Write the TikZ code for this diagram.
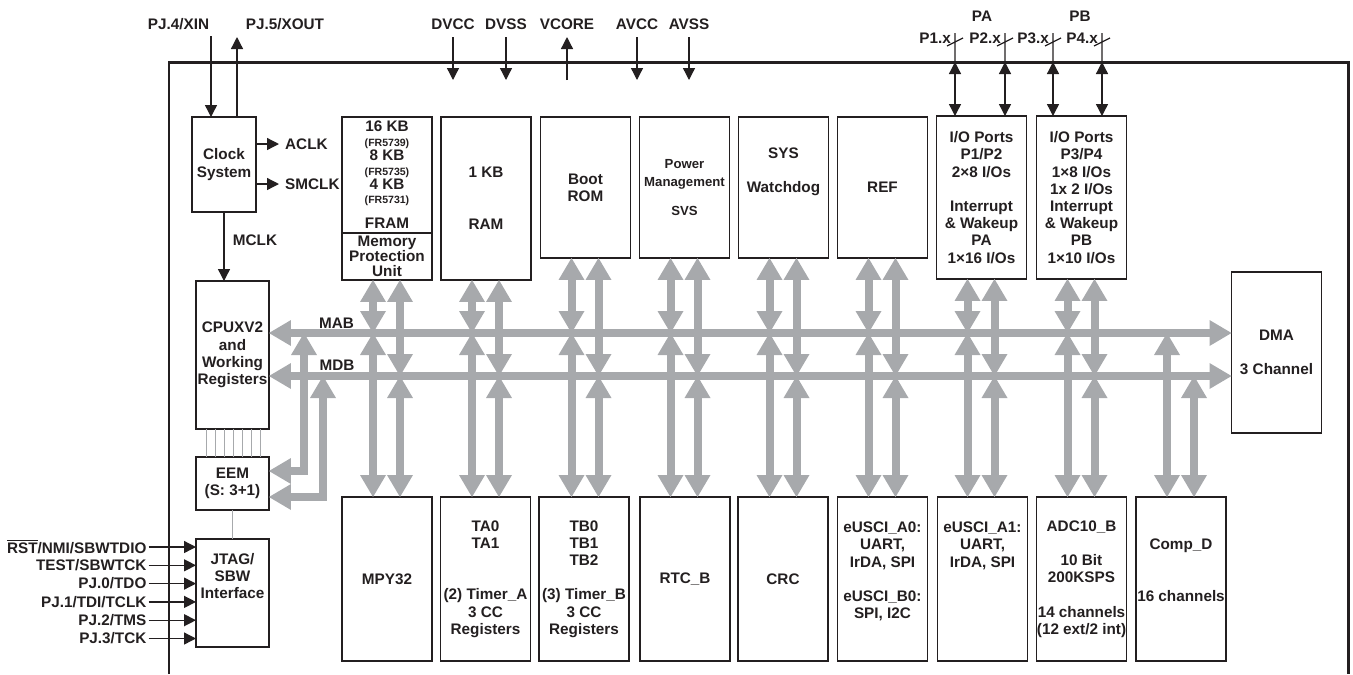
\documentclass[tikz,border=0pt]{standalone}
\usepackage{fontspec}
\setmainfont{Liberation Sans}
\usetikzlibrary{arrows.meta,calc,positioning}
\definecolor{231f20}{HTML}{231F20}
\definecolor{a7a9ac}{HTML}{A7A9AC}
\begin{document}
\begin{tikzpicture}[x=0.02cm,y=-0.02cm,231f20,>={Triangle[width=0.24cm,length=0.24cm]},
    font=\fontsize{8.7}{9.8}\selectfont\bfseries,
    blk/.style={draw=231f20,line width=1.1pt,minimum width=1.8cm,align=center,inner sep=0pt,outer sep=0pt},
    pin/.style={231f20,line width=0.75pt},
    pinlbl/.style={inner sep=1pt,anchor=east},
    bus/.style={a7a9ac,line width=0.16cm,>={Triangle[width=0.52cm,length=0.44cm,line width=0pt]}},
    wire/.style={a7a9ac,line width=0.8pt}]
    \newcommand{\frnum}[1]{{\fontsize{6}{6}\selectfont#1}}
    \newcommand{\HTop}{2.82cm}
    \newcommand{\HTall}{3.26cm}
    \newcommand{\HBot}{3.28cm}
    \useasboundingbox(0,0)rectangle(1353,674);
    \draw[231f20,line width=1.7pt](169,674)|-(1348,62)--(1348,674);
    \coordinate(mab)at(0,333);
    \coordinate(mdb)at(0,376);
    \coordinate(ptop)at(0,37);
    \coordinate(pbot)at(0,80);
    \coordinate(xin)at(211,36);
    \coordinate(xout)at(237,37);
    \coordinate(e1)at(304,471);
    \coordinate(e2)at(323,497);
    \coordinate(p1x)at(955,62);
    \coordinate(p2x)at(1005,62);
    \coordinate(p3x)at(1053,62);
    \coordinate(p4x)at(1102,62);
    \node[blk,minimum width=1.28cm,minimum height=1.9cm](clk)at(224,164.5){Clock\\System};
    \node[blk,minimum height=2.32cm,font=\fontsize{8.7}{8.2}\selectfont\bfseries](fram)at(387,175){16 KB\\\frnum{(FR5739)}\\8 KB\\\frnum{(FR5735)}\\4 KB\\\frnum{(FR5731)}\\[6pt]FRAM};
    \node[blk,minimum height=0.94cm,below=0pt of fram,font=\fontsize{8.7}{8.5}\selectfont\bfseries](mpu){Memory\\Protection\\Unit};
    \node[blk,minimum height=\HTall](ram)at(486,198.5){1 KB\\[19.6pt]RAM};
    \node[blk,minimum height=\HTop](boot)at(585.5,187.5){Boot\\ROM};
    \node[blk,minimum height=\HTop,font=\fontsize{7.5}{10.2}\selectfont\bfseries](pmm)at(684.5,187.5){Power\\Management\\[6.8pt]SVS};
    \node[blk,minimum height=\HTop](sys)at(783.5,187.5){SYS\\[9.8pt]Watchdog\\[9.8pt]\mbox{}};
    \node[blk,minimum height=\HTop](ref)at(882.5,187.5){REF};
    \node[blk,minimum height=\HTall](pa)at(981.5,197.5){I/O Ports\\P1/P2\\2×8 I/Os\\[9.8pt]Interrupt\\\& Wakeup\\PA\\1×16 I/Os};
    \node[blk,minimum height=\HTall](pb)at(1081.5,197.5){I/O Ports\\P3/P4\\1×8 I/Os\\1x 2 I/Os\\Interrupt\\\& Wakeup\\PB\\1×10 I/Os};
    \node[blk,minimum width=1.46cm,minimum height=2.96cm](cpu)at(232.5,355){CPUXV2\\and\\Working\\Registers};
    \node[blk,minimum width=1.46cm,minimum height=1.06cm,below=0.56cm of cpu](eem){EEM\\(S: 3+1)};
    \node[blk,minimum width=1.46cm,minimum height=2.16cm,below=0.58cm of eem](jtag){JTAG/\\SBW\\Interface\\[9.8pt]\mbox{}};
    \node[blk,minimum height=3.22cm](dma)at(1276.5,352.5){DMA\\[9.8pt]3 Channel};
    \node[blk,minimum height=\HBot](mpy)at(387,579){MPY32};
    \node[blk,minimum height=\HBot](ta)at(485.5,579){TA0\\TA1\\[19.6pt](2) Timer\_A\\3 CC\\Registers};
    \node[blk,minimum height=\HBot](tb)at(584,579){TB0\\TB1\\TB2\\[9.8pt](3) Timer\_B\\3 CC\\Registers};
    \node[blk,minimum height=\HBot](rtc)at(685,579){RTC\_B};
    \node[blk,minimum height=\HBot](crc)at(783,579){CRC};
    \node[blk,minimum height=\HBot](usci0)at(882.5,579){eUSCI\_A0:\\UART,\\IrDA, SPI\\[9.8pt]eUSCI\_B0:\\SPI, I2C\\\mbox{}};
    \node[blk,minimum height=\HBot](usci1)at(982.5,579){eUSCI\_A1:\\UART,\\IrDA, SPI\\[29.4pt]\mbox{}};
    \node[blk,minimum height=\HBot](adc)at(1081.5,579){ADC10\_B\\[9.8pt]10 Bit\\200KSPS\\[9.8pt]14 channels\\(12 ext/2 int)};
    \node[blk,minimum height=\HBot](comp)at(1181,579){Comp\_D\\[19.6pt]16 channels\\\mbox{}};
    \node(xinl)at(178.5,24){PJ.4/XIN};
    \node(xoutl)at(285,24){PJ.5/XOUT};
    \node(dvcc)at(453,24){DVCC};
    \node(dvss)at(506,24){DVSS};
    \node(vcore)at(567,24){VCORE};
    \node(avcc)at(637,24){AVCC};
    \node(avss)at(689,24){AVSS};
    \node(palbl)at(982,16){PA};
    \node(pblbl)at(1080,16){PB};
    \node[pinlbl](p1)at(953,38){P1.x};
    \node[pinlbl](p2)at(1003,38){P2.x};
    \node[pinlbl](p3)at(1051,38){P3.x};
    \node[pinlbl](p4)at(1100,38){P4.x};
    \node[anchor=west](aclk)at(279,144){ACLK};
    \node[anchor=west](smclk)at(279,184){SMCLK};
    \node(mclk)at(255,240){MCLK};
    \node(mabl)at(336.5,323){MAB};
    \node(mdbl)at(337,365){MDB};
    \node[pinlbl](rst)at(148.5,547){$\overline{\hbox{RST}}$/NMI/SBWTDIO};
    \node[pinlbl](test)at(148.5,565.3){TEST/SBWTCK};
    \node[pinlbl](pj0)at(148.5,583.6){PJ.0/TDO};
    \node[pinlbl](pj1)at(148.5,601.9){PJ.1/TDI/TCLK};
    \node[pinlbl](pj2)at(148.5,620.2){PJ.2/TMS};
    \node[pinlbl](pj3)at(148.5,638.5){PJ.3/TCK};
    \draw[pin,->](xin)--(xin|-clk.north);
    \draw[pin,->](xout|-clk.north)--(xout);
    \draw[pin,->](clk.east|-aclk)--(aclk.west);
    \draw[pin,->](clk.east|-smclk)--(smclk.west);
    \draw[pin,->](clk.south)--(clk.south|-cpu.north);
    \draw[pin,->](dvcc|-ptop)--(dvcc|-pbot);
    \draw[pin,->](dvss|-ptop)--(dvss|-pbot);
    \draw[pin,->](vcore|-pbot)--(vcore|-ptop);
    \draw[pin,->](avcc|-ptop)--(avcc|-pbot);
    \draw[pin,->](avss|-ptop)--(avss|-pbot);
    \draw[pin,<->](p1x)--(p1x|-pa.north);
    \draw[pin,<->](p2x)--(p2x|-pa.north);
    \draw[pin,<->](p3x)--(p3x|-pb.north);
    \draw[pin,<->](p4x)--(p4x|-pb.north);
    \draw[pin](p1x)--++(0,-29)++(-8,13)--++(16,-8);
    \draw[pin](p2x)--++(0,-29)++(-8,13)--++(16,-8);
    \draw[pin](p3x)--++(0,-29)++(-8,13)--++(16,-8);
    \draw[pin](p4x)--++(0,-29)++(-8,13)--++(16,-8);
    \draw[pin,->](rst.east)--(rst.east-|jtag.west);
    \draw[pin,->](test.east)--(test.east-|jtag.west);
    \draw[pin,->](pj0.east)--(pj0.east-|jtag.west);
    \draw[pin,->](pj1.east)--(pj1.east-|jtag.west);
    \draw[pin,->](pj2.east)--(pj2.east-|jtag.west);
    \draw[pin,->](pj3.east)--(pj3.east-|jtag.west);
    \draw[wire]($(cpu.south)+(-26,0)$)--($(eem.north)+(-26,0)$);
    \draw[wire]($(cpu.south)+(-17,0)$)--($(eem.north)+(-17,0)$);
    \draw[wire]($(cpu.south)+(-8,0)$)--($(eem.north)+(-8,0)$);
    \draw[wire]($(cpu.south)+(1,0)$)--($(eem.north)+(1,0)$);
    \draw[wire]($(cpu.south)+(10,0)$)--($(eem.north)+(10,0)$);
    \draw[wire]($(cpu.south)+(19,0)$)--($(eem.north)+(19,0)$);
    \draw[wire]($(cpu.south)+(28,0)$)--($(eem.north)+(28,0)$);
    \draw[wire](eem.south)--(jtag.north);
    \draw[bus,<->](cpu.east|-mab)--(dma.west|-mab);
    \draw[bus,<->](cpu.east|-mdb)--(dma.west|-mdb);
    \draw[bus,<->](eem.east|-e1)-|(e1|-mab);
    \draw[bus,<->](eem.east|-e2)-|(e2|-mdb);
    \draw[bus,<->]($(mpu.south)+(-14,0)$)--({$(mpu.south)+(-14,0)$}|-mab);
    \draw[bus,<->]({$(mpu.south)+(-14,0)$}|-mab)--({$(mpu.south)+(-14,0)$}|-mpy.north);
    \draw[bus,<->]($(mpu.south)+(13,0)$)--({$(mpu.south)+(13,0)$}|-mdb);
    \draw[bus,<->]({$(mpu.south)+(13,0)$}|-mdb)--({$(mpu.south)+(13,0)$}|-mpy.north);
    \draw[bus,<->]($(ram.south)+(-14,0)$)--({$(ram.south)+(-14,0)$}|-mab);
    \draw[bus,<->]({$(ram.south)+(-14,0)$}|-mab)--({$(ram.south)+(-14,0)$}|-ta.north);
    \draw[bus,<->]($(ram.south)+(13,0)$)--({$(ram.south)+(13,0)$}|-mdb);
    \draw[bus,<->]({$(ram.south)+(13,0)$}|-mdb)--({$(ram.south)+(13,0)$}|-ta.north);
    \draw[bus,<->]($(boot.south)+(-14,0)$)--({$(boot.south)+(-14,0)$}|-mab);
    \draw[bus,<->]({$(boot.south)+(-14,0)$}|-mab)--({$(boot.south)+(-14,0)$}|-tb.north);
    \draw[bus,<->]($(boot.south)+(13,0)$)--({$(boot.south)+(13,0)$}|-mdb);
    \draw[bus,<->]({$(boot.south)+(13,0)$}|-mdb)--({$(boot.south)+(13,0)$}|-tb.north);
    \draw[bus,<->]($(pmm.south)+(-14,0)$)--({$(pmm.south)+(-14,0)$}|-mab);
    \draw[bus,<->]({$(pmm.south)+(-14,0)$}|-mab)--({$(pmm.south)+(-14,0)$}|-rtc.north);
    \draw[bus,<->]($(pmm.south)+(13,0)$)--({$(pmm.south)+(13,0)$}|-mdb);
    \draw[bus,<->]({$(pmm.south)+(13,0)$}|-mdb)--({$(pmm.south)+(13,0)$}|-rtc.north);
    \draw[bus,<->]($(sys.south)+(-14,0)$)--({$(sys.south)+(-14,0)$}|-mab);
    \draw[bus,<->]({$(sys.south)+(-14,0)$}|-mab)--({$(sys.south)+(-14,0)$}|-crc.north);
    \draw[bus,<->]($(sys.south)+(13,0)$)--({$(sys.south)+(13,0)$}|-mdb);
    \draw[bus,<->]({$(sys.south)+(13,0)$}|-mdb)--({$(sys.south)+(13,0)$}|-crc.north);
    \draw[bus,<->]($(ref.south)+(-14,0)$)--({$(ref.south)+(-14,0)$}|-mab);
    \draw[bus,<->]({$(ref.south)+(-14,0)$}|-mab)--({$(ref.south)+(-14,0)$}|-usci0.north);
    \draw[bus,<->]($(ref.south)+(13,0)$)--({$(ref.south)+(13,0)$}|-mdb);
    \draw[bus,<->]({$(ref.south)+(13,0)$}|-mdb)--({$(ref.south)+(13,0)$}|-usci0.north);
    \draw[bus,<->]($(pa.south)+(-14,0)$)--({$(pa.south)+(-14,0)$}|-mab);
    \draw[bus,<->]({$(pa.south)+(-14,0)$}|-mab)--({$(pa.south)+(-14,0)$}|-usci1.north);
    \draw[bus,<->]($(pa.south)+(13,0)$)--({$(pa.south)+(13,0)$}|-mdb);
    \draw[bus,<->]({$(pa.south)+(13,0)$}|-mdb)--({$(pa.south)+(13,0)$}|-usci1.north);
    \draw[bus,<->]($(pb.south)+(-14,0)$)--({$(pb.south)+(-14,0)$}|-mab);
    \draw[bus,<->]({$(pb.south)+(-14,0)$}|-mab)--({$(pb.south)+(-14,0)$}|-adc.north);
    \draw[bus,<->]($(pb.south)+(13,0)$)--({$(pb.south)+(13,0)$}|-mdb);
    \draw[bus,<->]({$(pb.south)+(13,0)$}|-mdb)--({$(pb.south)+(13,0)$}|-adc.north);
    \draw[bus,<->]({$(comp.north)+(-14,0)$}|-mab)--($(comp.north)+(-14,0)$);
    \draw[bus,<->]({$(comp.north)+(13,0)$}|-mdb)--($(comp.north)+(13,0)$);
\end{tikzpicture}
\end{document}
